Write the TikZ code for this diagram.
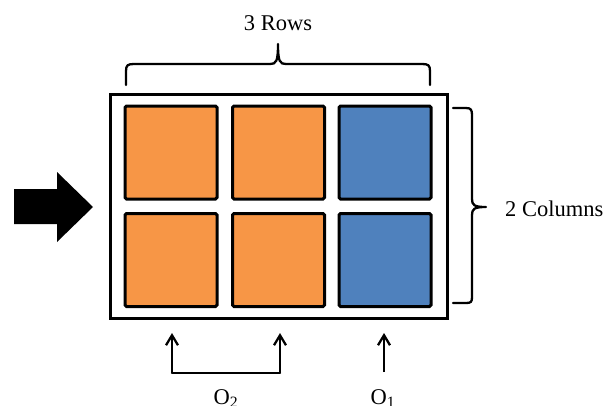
\documentclass[tikz,border=0pt]{standalone}
\usepackage{fontspec}
\setmainfont{Liberation Serif}
\usetikzlibrary{arrows.meta}
\definecolor{cellorange}{HTML}{F79646}
\definecolor{cellblue}{HTML}{4F81BD}
\tikzset{
  cell/.style={draw=black, line width=3pt, rounded corners=1.5pt, minimum width=92pt, minimum height=93pt, inner sep=0pt},
  bracket/.style={draw=black, line width=2.3pt, line cap=round, line join=round},
  uparrow/.style={draw=black, line width=2.3pt, -{Straight Barb[length=10pt,width=12pt,line width=2.3pt]}},
  label/.style={font=\fontsize{22.5}{27}\selectfont, inner sep=0pt},
}
\begin{document}
\begin{tikzpicture}[x=1pt,y=-1pt]
\useasboundingbox (0,0) rectangle (608,405);

% outer frame
\node[draw=black, line width=3pt, minimum width=337pt, minimum height=224pt, inner sep=0pt] (frame) at (278.5,206) {};

% grid of cells
\node[cell, fill=cellorange] (c11) at (171,152.5) {};
\node[cell, fill=cellorange] (c12) at (278.5,152.5) {};
\node[cell, fill=cellblue]   (c13) at (385,152.5) {};
\node[cell, fill=cellorange] (c21) at (171,260) {};
\node[cell, fill=cellorange] (c22) at (278.5,260) {};
\node[cell, fill=cellblue]   (c23) at (385,260) {};

% input arrow
\fill[black] (14,189) -- (57,189) -- (57,172) -- (93,207) -- (57,242) -- (57,224) -- (14,224) -- cycle;

% top brace
\draw[bracket] (126,85) -- (126,71) .. controls (126,65) and (128,64) .. (134,64)
  -- (270,64) .. controls (276,64) and (278,62) .. (278,44)
  .. controls (278,62) and (280,64) .. (286,64)
  -- (422,64) .. controls (428,64) and (430,65) .. (430,71) -- (430,85);
\node[label] (rows) at (278,23) {3 Rows};

% right brace
\draw[bracket] (453,108) -- (466,108) .. controls (471,108) and (472,110) .. (472,115)
  -- (472,199) .. controls (472,205) and (474,207) .. (486,207)
  .. controls (474,207) and (472,209) .. (472,215)
  -- (472,297) .. controls (472,302) and (471,303) .. (466,303) -- (453,303);
\node[label, anchor=west] (cols) at (505,209) {2 Columns};

% output arrows
\coordinate (a1) at (172,373);
\coordinate (a2) at (280,373);
\coordinate (a3) at (384,372);
\coordinate (t1) at (172,333);
\coordinate (t2) at (280,333);
\coordinate (t3) at (384,333);
\draw[uparrow] (a1) -- (t1);
\draw[uparrow] (a2) -- (t2);
\draw[uparrow] (a3) -- (t3);
\draw[bracket] (a1) -- (a2);
\node[label, anchor=base] (o2) at (226,404) {O\textsubscript{2}};
\node[label, anchor=base] (o1) at (383,404) {O\textsubscript{1}};
\end{tikzpicture}
\end{document}
